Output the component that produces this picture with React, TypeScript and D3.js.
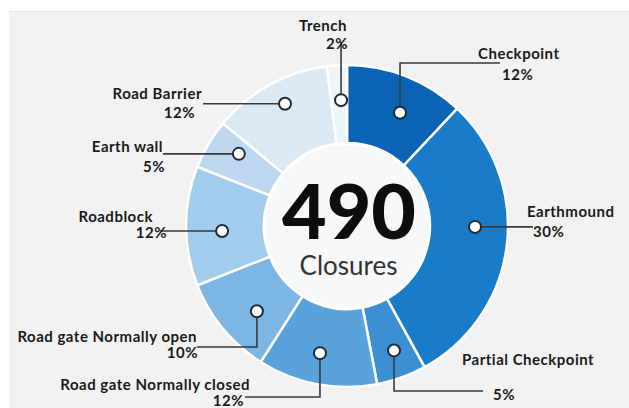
import React from "react";
import * as d3 from "d3";

const categories = [
  "Checkpoint",
  "Earthmound",
  "Partial Checkpoint",
  "Road gate Normally closed",
  "Road gate Normally open",
  "Roadblock",
  "Earth wall",
  "Road Barrier",
  "Trench",
];
const shares = [12, 30, 5, 12, 10, 12, 5, 12, 2];
const colors = [
  "#0a63b5",
  "#1a7cc9",
  "#3c8fd3",
  "#5aa2db",
  "#7db6e2",
  "#a2cceb",
  "#bed9ef",
  "#dbe9f5",
  "#eef4fa",
];
const totalLabel = "490";
const totalCaption = "Closures";

// label layout: marker nudge (deg), marker radius, leader elbow, text anchor positions
type Lay = {
  nudge: number;
  r: number;
  vy?: number; // vertical leg to this y
  hx?: number; // horizontal leg to this x
  anchor: "start" | "end";
  nx: number;
  ny: number;
  px: number;
  py: number;
};
const layout: Lay[] = [
  { nudge: 3.5, r: 125, vy: 63, hx: 500, anchor: "start", nx: 478, ny: 59, px: 502, py: 80 },
  { nudge: -6.8, r: 128, hx: 533, anchor: "start", nx: 527, ny: 217, px: 533, py: 237 },
  { nudge: -0.9, r: 133, vy: 391, hx: 483, anchor: "start", nx: 462, ny: 365, px: 493, py: 400 },
  { nudge: 1.2, r: 130, vy: 397, hx: 245, anchor: "end", nx: 250, ny: 390, px: 244, py: 406 },
  { nudge: -3.8, r: 124, vy: 347, hx: 197, anchor: "end", nx: 197, ny: 342, px: 198, py: 358 },
  { nudge: -2.3, r: 125, hx: 160, anchor: "end", nx: 153, ny: 222, px: 167, py: 238 },
  { nudge: 3.1, r: 130, hx: 163, anchor: "end", nx: 163, ny: 152, px: 165, py: 172 },
  { nudge: 1.9, r: 137, hx: 203, anchor: "end", nx: 202, ny: 99, px: 195, py: 118 },
  { nudge: 0.9, r: 126, vy: 42, anchor: "end", nx: 347, ny: 31, px: 348, py: 49 },
];

const W = 629;
const H = 408;
const cx = 347;
const cy = 226;
const outerR = 161;
const innerR = 83;

export default function App() {
  const pie = d3
    .pie<number>()
    .value((d) => d)
    .sort(null)
    .startAngle(0)
    .endAngle(2 * Math.PI);
  const arcs = pie(shares);
  const arc = d3
    .arc<d3.PieArcDatum<number>>()
    .innerRadius(innerR)
    .outerRadius(outerR);

  const labelFont = "Lato, 'DejaVu Sans', sans-serif";

  return (
    <svg
      width={W}
      height={H}
      style={{ position: "absolute", left: 0, top: 0 }}
      viewBox={`0 0 ${W} ${H}`}
    >
      <rect x={0} y={0} width={W} height={H} fill="#ffffff" />
      <rect x={9} y={11} width={W - 9} height={H - 11} fill="#f2f2f2" />
      <line x1={9} x2={W} y1={11.5} y2={11.5} stroke="#e2e2e2" strokeWidth={1} />
      <g transform={`translate(${cx},${cy})`}>
        <circle r={innerR} fill="#f6f8fa" />
        {arcs.map((a, i) => (
          <path
            key={categories[i]}
            d={arc(a) || ""}
            fill={colors[i]}
            stroke="#ffffff"
            strokeWidth={2.5}
          />
        ))}
        <circle r={innerR - 1} fill="none" stroke="#ffffff" strokeWidth={2} />
      </g>
      {arcs.map((a, i) => {
        const L = layout[i];
        const ang = (a.startAngle + a.endAngle) / 2 + (L.nudge * Math.PI) / 180;
        const mx = cx + L.r * Math.sin(ang);
        const my = cy - L.r * Math.cos(ang);
        const pts: [number, number][] = [[mx, my]];
        if (L.vy !== undefined) pts.push([mx, L.vy]);
        const ly = L.vy !== undefined ? L.vy : my;
        if (L.hx !== undefined) pts.push([L.hx, ly]);
        const line = d3.line()(pts) || "";
        return (
          <g key={categories[i]}>
            <path d={line} fill="none" stroke="#3a3a3a" strokeWidth={1.6} />
            <circle cx={mx} cy={my} r={6} fill="#ffffff" stroke="#1d2b3a" strokeWidth={2} />
          </g>
        );
      })}
      {arcs.map((a, i) => {
        const L = layout[i];
        return (
          <g
            key={"t" + categories[i]}
            fontFamily={labelFont}
            fontWeight={700}
            fontSize={15}
            letterSpacing={0.5}
            fill="#1a1a1a"
            textAnchor={L.anchor}
          >
            <text x={L.nx} y={L.ny}>{categories[i]}</text>
            <text x={L.px} y={L.py}>{shares[i]}%</text>
          </g>
        );
      })}
      <text
        x={349}
        y={239}
        textAnchor="middle"
        fontFamily={labelFont}
        fontWeight={900}
        fontSize={77}
        fill="#0d0d0d"
      >
        {totalLabel}
      </text>
      <text
        x={348.5}
        y={275}
        textAnchor="middle"
        fontFamily={labelFont}
        fontWeight={400}
        fontSize={26}
        fill="#333333"
      >
        {totalCaption}
      </text>
    </svg>
  );
}
